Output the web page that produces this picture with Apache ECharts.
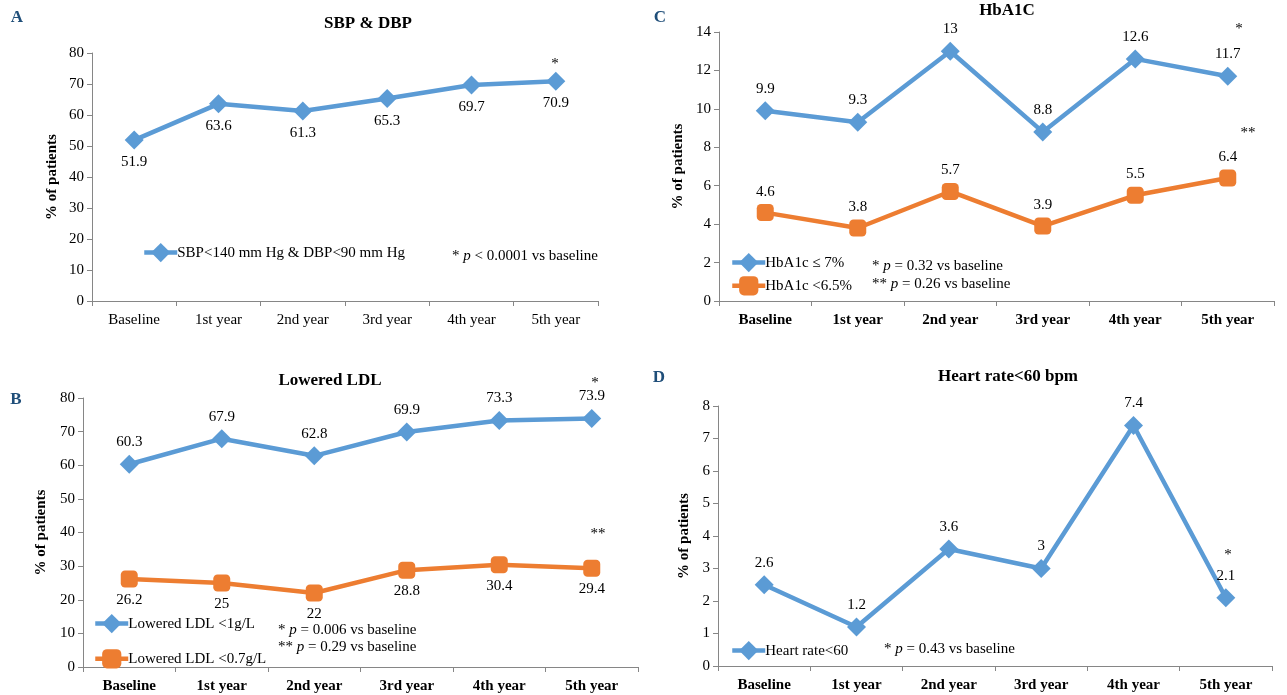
<!DOCTYPE html>
<html>
<head>
<meta charset="utf-8">
<script src="https://cdn.jsdelivr.net/npm/echarts@6/dist/echarts.min.js"></script>
<style>
  html, body { margin: 0; background: #fff; }
  #chart { width: 1287px; height: 695px; }
</style>
</head>
<body>
<div id="chart"></div>
<script>
// data
const categories = ['Baseline', '1st year', '2nd year', '3rd year', '4th year', '5th year']
const sbpDbp = [51.9, 63.6, 61.3, 65.3, 69.7, 70.9]
const hba1c7 = [9.9, 9.3, 13, 8.8, 12.6, 11.7]
const hba1c65 = [4.6, 3.8, 5.7, 3.9, 5.5, 6.4]
const ldl1 = [60.3, 67.9, 62.8, 69.9, 73.3, 73.9]
const ldl07 = [26.2, 25, 22, 28.8, 30.4, 29.4]
const heartRate = [2.5, 1.2, 3.6, 3, 7.4, 2.1]
const heartRateLabels = ['2.6', '1.2', '3.6', '3', '7.4', '2.1']
const yMax = [80, 14, 80, 8]
const yStep = [10, 2, 10, 1]

const FONT = 'Liberation Serif'
const BLUE = '#5b9bd5'
const ORANGE = '#ed7d31'
const AXIS = '#868686'

// A, C, B, D
const grids = [
  { left: 92, top: 53, width: 506, height: 248 },
  { left: 719, top: 32, width: 555, height: 269 },
  { left: 83, top: 398, width: 555, height: 269 },
  { left: 718, top: 406, width: 554, height: 260 }
]
const boldX = [false, true, true, true]
const nameGaps = [32, 33, 34, 26]

function xAxis(i) {
  return {
    type: 'category', gridIndex: i, data: categories, boundaryGap: true,
    axisLine: { lineStyle: { color: AXIS, width: 1 } },
    axisTick: { show: true, length: 5, lineStyle: { color: AXIS } },
    axisLabel: { color: '#000', fontFamily: FONT, fontSize: 15, margin: 12, fontWeight: boldX[i] ? 'bold' : 'normal' }
  }
}

function yAxis(i) {
  return {
    type: 'value', gridIndex: i, min: 0, max: yMax[i], interval: yStep[i],
    name: '% of patients', nameLocation: 'middle', nameGap: nameGaps[i], nameRotate: 90,
    nameMoveOverlap: false,
    nameTextStyle: { color: '#000', fontFamily: FONT, fontSize: 15, fontWeight: 'bold' },
    axisLine: { show: true, lineStyle: { color: AXIS, width: 1 } },
    axisTick: { show: true, length: 5, lineStyle: { color: AXIS } },
    splitLine: { show: false },
    axisLabel: { color: '#000', fontFamily: FONT, fontSize: 15, margin: 8 }
  }
}

function lineSeries(name, data, idx, color, symbol, labelPos, labels) {
  return {
    name: name, type: 'line', xAxisIndex: idx, yAxisIndex: idx, data: data,
    symbol: symbol, symbolSize: symbol === 'diamond' ? 19 : 17,
    lineStyle: { color: color, width: 4.5 },
    itemStyle: { color: color },
    label: {
      show: true, position: labelPos, distance: 5, color: '#000', fontFamily: FONT, fontSize: 15,
      formatter: labels ? function(p) { return labels[p.dataIndex] } : '{c}'
    },
    animation: false
  }
}

function legend(names, left, top, gap) {
  return {
    data: names, left: left, top: top, orient: 'vertical', itemGap: gap,
    itemWidth: 33, itemHeight: 24,
    lineStyle: { width: 4.5 },
    textStyle: { color: '#000', fontFamily: FONT, fontSize: 15, padding: [0, 0, 0, -5] }
  }
}

function note(stars, rest, x, y) {
  return {
    type: 'text', left: x, top: y,
    style: {
      text: '{n|' + stars + ' }{i|p}{n|' + rest + '}',
      rich: {
        n: { fontFamily: FONT, fontSize: 15, fill: '#000' },
        i: { fontFamily: FONT, fontSize: 15, fontStyle: 'italic', fill: '#000' }
      }
    }
  }
}

function txt(s, x, y, size, bold, color) {
  return {
    type: 'text', x: x, y: y,
    style: { text: s, fontFamily: FONT, fontSize: size, fontWeight: bold ? 'bold' : 'normal', fill: color || '#000', align: 'center', verticalAlign: 'middle' }
  }
}

const chart = echarts.init(document.getElementById('chart'))
chart.setOption({
  backgroundColor: '#fff',
  animation: false,
  grid: grids,
  xAxis: [0, 1, 2, 3].map(xAxis),
  yAxis: [0, 1, 2, 3].map(yAxis),
  legend: [
    legend(['SBP<140 mm Hg & DBP<90 mm Hg'], 137, 238, 10),
    legend(['HbA1c ≤ 7%', 'HbA1c <6.5%'], 725, 248, 4),
    legend(['Lowered LDL <1g/L', 'Lowered LDL <0.7g/L'], 88, 609, 16),
    legend(['Heart rate<60'], 725, 636, 10)
  ],
  series: [
    lineSeries('SBP<140 mm Hg & DBP<90 mm Hg', sbpDbp, 0, BLUE, 'diamond', 'bottom'),
    lineSeries('HbA1c ≤ 7%', hba1c7, 1, BLUE, 'diamond', 'top'),
    lineSeries('HbA1c <6.5%', hba1c65, 1, ORANGE, 'roundRect', 'top'),
    lineSeries('Lowered LDL <1g/L', ldl1, 2, BLUE, 'diamond', 'top'),
    lineSeries('Lowered LDL <0.7g/L', ldl07, 2, ORANGE, 'roundRect', 'bottom'),
    lineSeries('Heart rate<60', heartRate, 3, BLUE, 'diamond', 'top', heartRateLabels)
  ],
  graphic: [
    txt('A', 17, 18, 17, true, '#1f4e79'),
    txt('C', 660, 18, 17, true, '#1f4e79'),
    txt('B', 16, 400, 17, true, '#1f4e79'),
    txt('D', 659, 378, 17, true, '#1f4e79'),
    txt('SBP & DBP', 368, 24, 17, true),
    txt('HbA1C', 1007, 11, 17, true),
    txt('Lowered LDL', 330, 381, 17, true),
    txt('Heart rate<60 bpm', 1008, 377, 17, true),
    txt('*', 555, 64, 15),
    txt('*', 1239, 29, 15),
    txt('**', 1248, 133, 15),
    txt('*', 595, 383, 15),
    txt('**', 598, 534, 15),
    txt('*', 1228, 555, 15),
    note('*', ' < 0.0001 vs baseline', 452, 249),
    note('*', ' = 0.32 vs baseline', 872, 259),
    note('**', ' = 0.26 vs baseline', 872, 277),
    note('*', ' = 0.006 vs baseline', 278, 623),
    note('**', ' = 0.29 vs baseline', 278, 640),
    note('*', ' = 0.43 vs baseline', 884, 642)
  ]
})
</script>
</body>
</html>
